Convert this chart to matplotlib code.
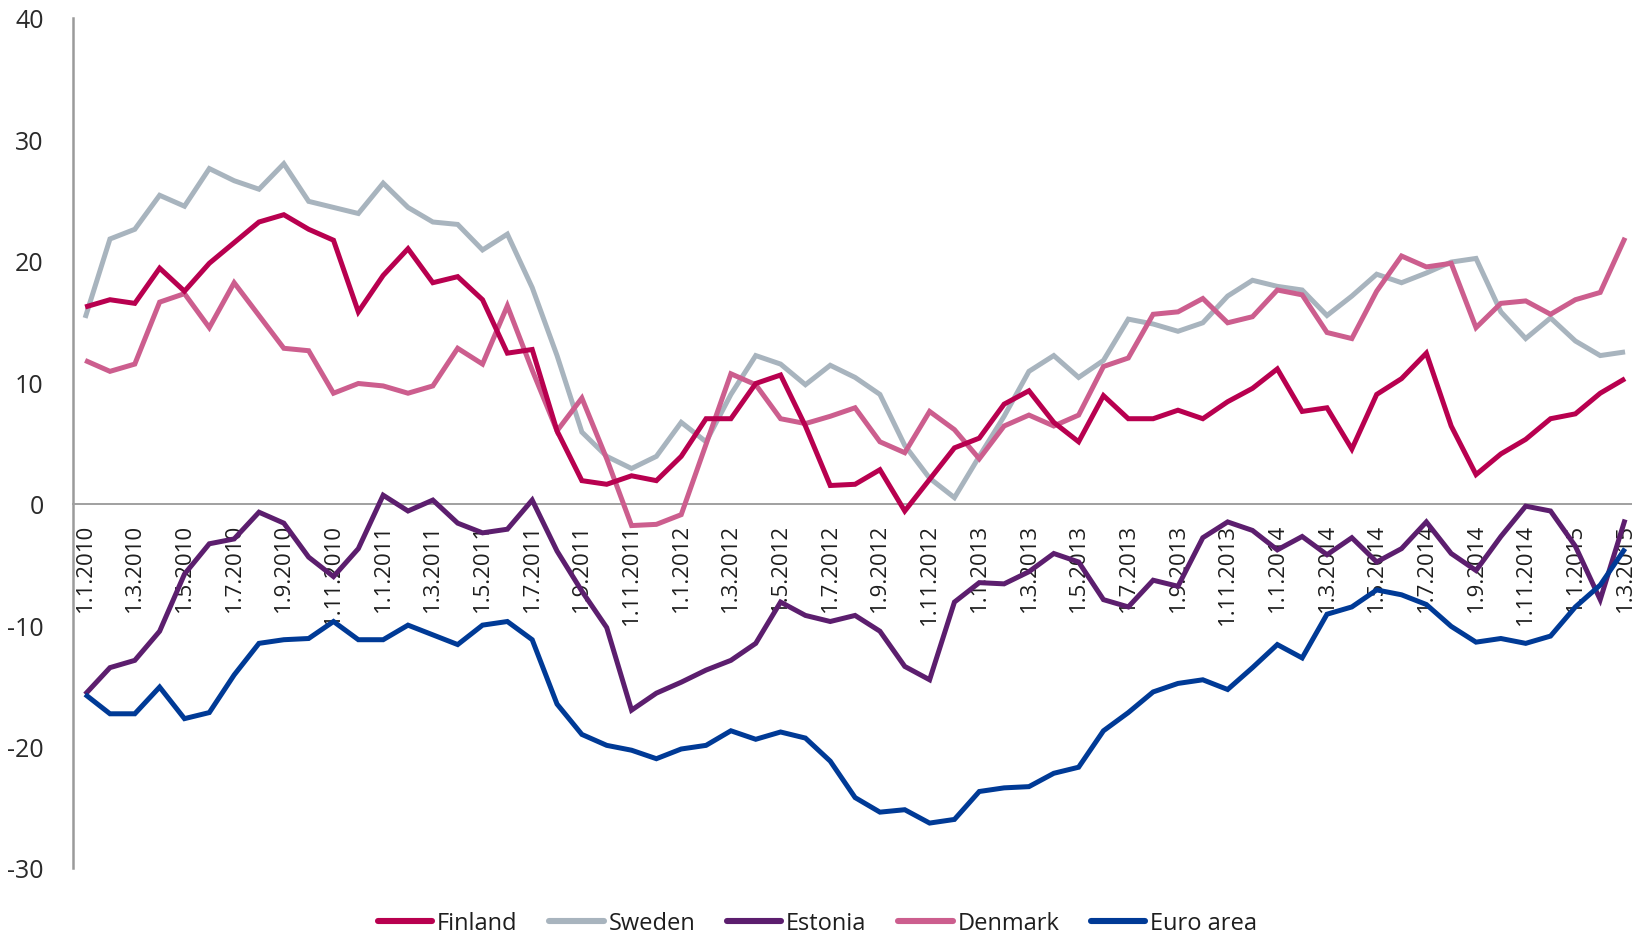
import matplotlib
matplotlib.use("Agg")
import matplotlib.pyplot as plt
from matplotlib.lines import Line2D

# ---- data -------------------------------------------------------------
finland = [16.2, 16.8, 16.5, 19.4, 17.5, 19.8, 21.5, 23.2, 23.8, 22.6, 21.7, 15.8, 18.8, 21.0,
           18.2, 18.7, 16.8, 12.4, 12.7, 6.0, 1.9, 1.6, 2.3, 1.9, 3.9, 7.0, 7.0, 9.9, 10.6, 6.4,
           1.5, 1.6, 2.8, -0.6, 2.0, 4.6, 5.4, 8.2, 9.3, 6.7, 5.1, 8.9, 7.0, 7.0, 7.7, 7.0,
           8.4, 9.5, 11.1, 7.6, 7.9, 4.5, 9.0, 10.3, 12.4, 6.4, 2.4, 4.1, 5.3, 7.0, 7.4, 9.1, 10.3]
sweden = [15.3, 21.8, 22.6, 25.4, 24.5, 27.6, 26.6, 25.9, 28.0, 24.9, 24.4, 23.9, 26.4, 24.4,
          23.2, 23.0, 20.9, 22.2, 17.8, 12.2, 5.9, 3.9, 2.9, 3.9, 6.7, 5.1, 9.0, 12.2, 11.5, 9.8,
          11.4, 10.4, 9.0, 4.8, 2.1, 0.5, 3.9, 7.2, 10.9, 12.2, 10.4, 11.8, 15.2, 14.8, 14.2, 14.9,
          17.1, 18.4, 17.9, 17.6, 15.5, 17.1, 18.9, 18.2, 19.0, 19.9, 20.2, 15.8, 13.6, 15.3, 13.4, 12.2, 12.5]
estonia = [-15.7, -13.5, -12.9, -10.5, -5.8, -3.3, -2.9, -0.7, -1.6, -4.4, -6.0, -3.7, 0.7, -0.6,
           0.3, -1.6, -2.4, -2.1, 0.3, -3.9, -7.2, -10.2, -17.0, -15.6, -14.7, -13.7, -12.9, -11.5, -8.1, -9.2,
           -9.7, -9.2, -10.5, -13.4, -14.5, -8.1, -6.5, -6.6, -5.6, -4.1, -4.8, -7.9, -8.5, -6.3, -6.8, -2.8,
           -1.5, -2.2, -3.8, -2.7, -4.2, -2.8, -4.8, -3.7, -1.5, -4.1, -5.5, -2.7, -0.2, -0.6, -3.5, -7.9, -1.3]
denmark = [11.8, 10.9, 11.5, 16.6, 17.3, 14.5, 18.2, 15.5, 12.8, 12.6, 9.1, 9.9, 9.7, 9.1,
           9.7, 12.8, 11.5, 16.3, 11.0, 6.0, 8.7, 3.7, -1.8, -1.7, -0.9, 4.9, 10.7, 9.8, 7.0, 6.6,
           7.2, 7.9, 5.1, 4.2, 7.6, 6.1, 3.7, 6.4, 7.3, 6.4, 7.3, 11.3, 12.0, 15.6, 15.8, 16.9,
           14.9, 15.4, 17.6, 17.2, 14.1, 13.6, 17.5, 20.4, 19.5, 19.8, 14.5, 16.5, 16.7, 15.6, 16.8, 17.4, 21.9]
euro_area = [-15.7, -17.3, -17.3, -15.1, -17.7, -17.2, -14.1, -11.5, -11.2, -11.1, -9.7, -11.2, -11.2, -10.0,
             -10.8, -11.6, -10.0, -9.7, -11.2, -16.5, -19.0, -19.9, -20.3, -21.0, -20.2, -19.9, -18.7, -19.4, -18.8, -19.3,
             -21.2, -24.2, -25.4, -25.2, -26.3, -26.0, -23.7, -23.4, -23.3, -22.2, -21.7, -18.7, -17.2, -15.5, -14.8, -14.5,
             -15.3, -13.5, -11.6, -12.7, -9.1, -8.5, -7.1, -7.5, -8.3, -10.1, -11.4, -11.1, -11.5, -10.9, -8.5, -6.7, -3.7]

x_tick_labels = ["1.1.2010", "1.3.2010", "1.5.2010", "1.7.2010", "1.9.2010", "1.11.2010",
                 "1.1.2011", "1.3.2011", "1.5.2011", "1.7.2011", "1.9.2011", "1.11.2011",
                 "1.1.2012", "1.3.2012", "1.5.2012", "1.7.2012", "1.9.2012", "1.11.2012",
                 "1.1.2013", "1.3.2013", "1.5.2013", "1.7.2013", "1.9.2013", "1.11.2013",
                 "1.1.2014", "1.3.2014", "1.5.2014", "1.7.2014", "1.9.2014", "1.11.2014",
                 "1.1.2015", "1.3.2015"]
y_ticks = [-30, -20, -10, 0, 10, 20, 30, 40]
y_tick_labels = ["-30", "-20", "-10", "0", "10", "20", "30", "40"]

series_names = ["Finland", "Sweden", "Estonia", "Denmark", "Euro area"]
series_values = [finland, sweden, estonia, denmark, euro_area]
series_colors = ["#B8004F", "#A8B4BE", "#5C1E6E", "#CC5E8E", "#003A96"]
# draw order (back to front)
draw_order = [1, 3, 0, 2, 4]

# ---- figure -----------------------------------------------------------
FONT = ["Open Sans", "DejaVu Sans"]
plt.rcParams["font.family"] = FONT

W, H = 1633, 937
fig = plt.figure(figsize=(W / 100, H / 100), dpi=100)
ax = fig.add_axes([72.7 / W, 1 - 869 / H, 1 - 72.7 / W, (869 - 19) / H])

months = list(range(len(finland)))
for k in draw_order:
    ax.plot(months, series_values[k], color=series_colors[k], lw=3.6,
            solid_joinstyle="miter", solid_capstyle="butt", zorder=3)

ax.set_xlim(-0.5, 62.32)
ax.set_ylim(-30, 40)

for s in ["top", "right"]:
    ax.spines[s].set_visible(False)
ax.spines["left"].set_color("#9A9A9A")
ax.spines["left"].set_linewidth(1.8)
ax.spines["bottom"].set_position(("data", 0))
ax.spines["bottom"].set_color("#A0A0A0")
ax.spines["bottom"].set_linewidth(1.4)

ax.set_yticks(y_ticks)
ax.set_yticklabels(y_tick_labels, fontsize=18, color="#2A2A2A")
ax.tick_params(axis="y", length=0, pad=21)

ax.set_xticks(list(range(0, len(finland), 2)))
ax.set_xticklabels(x_tick_labels, rotation=90, fontsize=16, color="#1E1E1E")
ax.tick_params(axis="x", length=0, pad=14)
for lab in ax.get_xticklabels():
    lab.set_zorder(2)

handles = [Line2D([0], [0], color=c, lw=4.4, solid_capstyle="round") for c in series_colors]
fig.legend(handles, series_names, loc="center", bbox_to_anchor=(0.5006, 0.0139), ncol=5,
           frameon=False, fontsize=17, handlelength=2.3, handletextpad=0.2,
           columnspacing=1.35, borderpad=0, labelcolor="#1E1E1E")

fig.savefig("out.png", dpi=100)
